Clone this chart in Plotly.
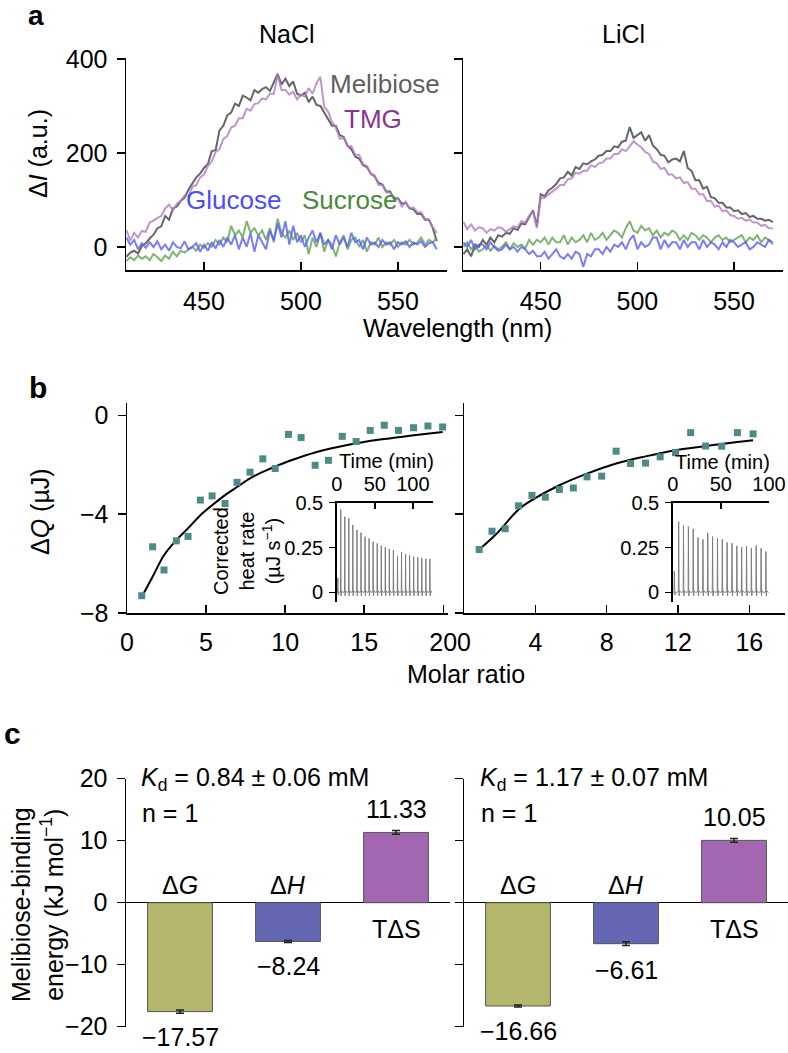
import plotly.graph_objects as go

W, H = 788, 1053
FONT = "Liberation Sans, Arial, Helvetica, sans-serif"

# ---------------- Panel a : fluorescence difference spectra ----------------
wavelength = list(range(410, 571, 2))

nacl_melibiose = [-21, -12, -8, -14, 2, 8, 18, 26, 40, 44,
                  66, 58, 82, 86, 98, 105, 122, 134, 148, 156,
                  168, 176, 204, 206, 248, 258, 280, 286, 305, 300,
                  322, 318, 312, 334, 328, 336, 340, 332, 352, 368,
                  346, 358, 342, 352, 326, 322, 328, 308, 320, 302,
                  300, 286, 274, 258, 258, 238, 234, 216, 208, 192,
                  188, 174, 170, 156, 150, 136, 133, 118, 118, 102,
                  104, 92, 94, 82, 80, 70, 70, 58, 58, 40,
                  12]
nacl_tmg = [36, 14, 30, 20, 34, 32, 52, 56, 62, 66,
            82, 90, 78, 92, 98, 110, 108, 128, 132, 148,
            154, 172, 182, 202, 208, 230, 236, 254, 258, 274,
            274, 294, 290, 304, 306, 316, 314, 326, 326, 366,
            334, 334, 324, 330, 314, 324, 320, 338, 326, 348,
            362, 298, 288, 266, 254, 230, 232, 214, 214, 196,
            196, 176, 172, 156, 152, 132, 132, 116, 116, 102,
            104, 86, 96, 82, 84, 74, 74, 60, 58, 42,
            30]
nacl_glucose = [20, 5, 15, -5, 8, -2, 10, 0, 12, -5,
                5, -8, 10, 0, -3, 12, -5, 0, 8, -10,
                5, -8, 10, -3, 15, 0, 20, 5, 25, -5,
                20, 0, 30, -10, 25, 10, -5, 35, 15, 50,
                20, 55, 5, 45, 10, 25, 0, 20, 35, 10,
                30, 5, 15, -5, 25, 5, 20, 0, 30, 10,
                15, -5, 20, 5, 10, 0, 15, 5, 10, -5,
                10, 5, 12, 0, 10, 5, 12, 0, 8, 10,
                -5]
nacl_sucrose = [-30, -22, -28, -18, -25, -20, -28, -15, -22, -30,
                -18, -25, -10, -20, -8, -12, -5, 0, -8, 5,
                -2, 8, 0, 15, 5, 20, 10, 45, 25, 35,
                20, 55, 30, 40, 25, 35, 15, 40, 10, 60,
                30, 20, 35, 15, 30, 10, 25, -15, 20, 0,
                30, -10, 15, 5, -20, 10, 25, -5, 15, 20,
                0, 15, -10, 10, 5, 20, 0, 10, 5, 15,
                0, 10, 5, 15, 5, 10, 20, 5, 15, 10,
                20]

licl_melibiose = [-15, -5, -20, 5, 0, 15, 5, 20, 10, 25,
                  22, 30, 28, 40, 36, 50, 48, 62, 78, 45,
                  112, 108, 120, 126, 134, 146, 148, 160, 152, 170,
                  166, 178, 176, 182, 186, 194, 196, 204, 204, 214,
                  212, 224, 226, 255, 232, 238, 244, 226, 238, 216,
                  208, 196, 194, 180, 186, 188, 182, 204, 168, 162,
                  142, 142, 124, 128, 106, 104, 94, 94, 84, 84,
                  76, 78, 70, 72, 64, 66, 60, 60, 56, 58,
                  53]
licl_tmg = [53, 38, 48, 35, 42, 40, 30, 38, 35, 42,
            40, 32, 38, 44, 42, 55, 52, 66, 76, 40,
            104, 104, 112, 118, 124, 132, 132, 144, 146, 158,
            156, 162, 162, 174, 170, 178, 180, 188, 188, 198,
            198, 208, 204, 214, 225, 218, 212, 202, 198, 182,
            178, 166, 168, 154, 154, 146, 148, 136, 138, 124,
            124, 112, 112, 98, 98, 86, 88, 76, 78, 68,
            66, 60, 62, 56, 58, 52, 52, 45, 47, 40,
            40]
licl_glucose = [10, 0, 15, -5, 5, 5, -5, 10, 0, -8,
                -5, 5, -5, 0, -10, 0, -5, -15, -8, -20,
                -20, -10, -25, -15, -5, -20, -25, -15, -25, -10,
                -15, -42, -15, -20, -5, -5, -15, 0, -10, 5,
                0, 10, -5, 15, 25, -5, 10, 0, 5, 20,
                20, -5, 15, 0, 10, 10, -5, 15, 0, 10,
                10, -5, 15, 0, 10, 5, -5, 10, 0, 15,
                10, 0, 5, 10, -5, 0, 10, 5, 0, 15,
                10]
licl_sucrose = [0, 10, -5, 5, -10, -5, 5, -8, 2, -5,
                0, 10, -5, 8, 0, 5, -3, 15, 5, 15,
                10, 20, 5, 20, 10, 10, 25, 5, 20, 10,
                15, 25, 10, 30, 15, 20, 30, 15, 25, 35,
                30, 20, 40, 55, 35, 30, 45, 35, 40, 25,
                35, 20, 30, 25, 35, 30, 15, 25, 15, 30,
                25, 15, 25, 20, 10, 20, 25, 15, 20, 10,
                15, 20, 25, 10, 20, 15, 25, 10, 20, 15,
                5]

sugar_names = ["Melibiose", "TMG", "Glucose", "Sucrose"]
line_colors = ["#555555", "#b27ac4", "#5a5aff", "#5fa34e"]
line_opac = [0.9, 0.8, 0.8, 0.8]
label_colors = ["#606060", "#8a3590", "#4b4bff", "#4a8a3a"]

# ---------------- Panel b : ITC ----------------
nacl_ratio = [0.93, 1.62, 2.34, 3.12, 3.86, 4.64, 5.38, 6.20, 6.96, 7.78, 8.59, 9.37,
              10.21, 11.01, 11.90, 12.74, 13.61, 14.49, 15.38, 16.27, 17.17, 18.12, 19.03, 19.96]
nacl_dq = [-7.30, -5.32, -6.26, -5.08, -4.90, -3.43, -3.26, -3.57, -2.71, -2.30, -1.76, -2.15,
           -0.77, -0.90, -2.02, -1.82, -0.85, -1.06, -0.61, -0.40, -0.61, -0.50, -0.43, -0.47]
nacl_fit_x = [0.93, 1.62, 2.34, 3.12, 3.86, 4.64, 5.38, 6.20, 6.96, 7.78, 8.59, 10.21, 12.0, 14.0, 16.0, 18.0, 19.96]
nacl_fit_y = [-7.35, -6.53, -5.66, -5.05, -4.57, -4.04, -3.64, -3.23, -2.90, -2.55, -2.29, -1.86, -1.48, -1.19, -0.98, -0.82, -0.67]

licl_ratio = [0.85, 1.57, 2.31, 3.06, 3.81, 4.56, 5.35, 6.13, 6.90, 7.72, 8.53, 9.34,
              10.18, 11.00, 11.86, 12.71, 13.55, 14.45, 15.33, 16.21]
licl_dq = [-5.43, -4.69, -4.59, -3.66, -3.24, -3.31, -3.00, -2.94, -2.49, -2.46, -1.45, -1.95,
           -1.93, -1.68, -1.51, -0.70, -1.24, -1.25, -0.70, -0.75]
licl_fit_x = [0.85, 1.84, 3.06, 3.81, 5.35, 6.90, 8.53, 10.18, 11.86, 13.55, 15.33, 16.21]
licl_fit_y = [-5.43, -4.78, -3.81, -3.43, -2.83, -2.36, -1.95, -1.66, -1.41, -1.24, -1.08, -1.01]

# inset raw thermograms: injection times (min) and peak heights (µJ/s)
nacl_inj_time = [5.3, 10.6, 15.9, 21.2, 26.6, 31.9, 37.2, 42.5, 47.8, 53.2, 58.5, 63.8,
                 69.1, 74.4, 79.8, 85.1, 90.4, 95.7, 101.0, 106.4, 111.7, 117.0, 122.3]
nacl_inj_peak = [0.463, 0.422, 0.413, 0.376, 0.348, 0.333, 0.310, 0.301, 0.283, 0.273, 0.260, 0.251,
                 0.242, 0.236, 0.203, 0.225, 0.214, 0.206, 0.199, 0.195, 0.191, 0.188, 0.186]
licl_inj_time = [6.2, 11.2, 16.3, 21.3, 26.3, 31.4, 36.4, 41.4, 46.5, 51.5, 56.5, 61.6,
                 66.6, 71.6, 76.7, 81.7, 86.7, 91.8, 96.8]
licl_inj_peak = [0.394, 0.372, 0.367, 0.354, 0.306, 0.296, 0.330, 0.311, 0.302, 0.296, 0.278, 0.274,
                 0.259, 0.252, 0.256, 0.246, 0.261, 0.246, 0.228]
first_inj = {"nacl": (1.5, 0.08), "licl": (1.7, 0.117)}

# ---------------- Panel c : thermodynamics ----------------
terms = ["ΔG", "ΔH", "TΔS"]
term_labels = ["Δ<i>G</i>", "Δ<i>H</i>", "TΔS"]
nacl_energy = [-17.57, -6.25, 11.33]
nacl_err = [0.25, 0.15, 0.3]
nacl_energy_text = ["−17.57", "−8.24", "11.33"]
licl_energy = [-16.66, -6.61, 10.05]
licl_err = [0.15, 0.3, 0.3]
licl_energy_text = ["−16.66", "−6.61", "10.05"]
bar_colors = ["#b4b66c", "#6667b4", "#a366b0"]
kd_text = ["<i>K</i><sub>d</sub> = 0.84 ± 0.06 mM", "<i>K</i><sub>d</sub> = 1.17 ± 0.07 mM"]


def xdom(a, b):
    return [a / W, b / W]


def ydom(top, bottom):
    return [1 - bottom / H, 1 - top / H]


def axis(domain, rng, **kw):
    d = dict(domain=domain, range=rng, showgrid=False, zeroline=False, showline=True, automargin=False,
             linecolor="black", linewidth=1.5, ticks="outside", ticklen=8, tickwidth=1.5,
             tickcolor="black", tickfont=dict(size=25, color="black", family=FONT))
    d.update(kw)
    return d


fig = go.Figure()

# panel a traces
spectra = [
    ("x", "y", [nacl_melibiose, nacl_tmg, nacl_sucrose, nacl_glucose]),
    ("x2", "y2", [licl_melibiose, licl_tmg, licl_sucrose, licl_glucose]),
]
order = [0, 1, 3, 2]
for xa, ya, series in spectra:
    for k, s in enumerate(series):
        ci = order[k]
        fig.add_trace(go.Scatter(x=wavelength, y=s, mode="lines", xaxis=xa, yaxis=ya,
                                 line=dict(color=line_colors[ci], width=2), opacity=line_opac[ci],
                                 name=sugar_names[ci], showlegend=False))

# panel b traces
for xa, ya, rx, ry, fx, fy in [("x3", "y3", nacl_ratio, nacl_dq, nacl_fit_x, nacl_fit_y),
                               ("x4", "y4", licl_ratio, licl_dq, licl_fit_x, licl_fit_y)]:
    fig.add_trace(go.Scatter(x=fx, y=fy, mode="lines", xaxis=xa, yaxis=ya, line_shape="spline",
                             line=dict(color="black", width=2), showlegend=False))
    fig.add_trace(go.Scatter(x=rx, y=ry, mode="markers", xaxis=xa, yaxis=ya,
                             marker=dict(symbol="square", size=7, color="#4d8b87"), showlegend=False))


def thermogram(first, times, peaks, t_end):
    xs = [0.0, first[0] - 0.3, first[0], first[0] + 0.5, first[0] + 1.5]
    ys = [0.0, 0.0, first[1], -0.015, 0.0]
    for t, h in zip(times, peaks):
        xs += [t - 0.3, t, t + 0.4, t + 1.0, t + 2.5]
        ys += [0.002, h, -0.02, 0.008, 0.0]
    xs.append(t_end)
    ys.append(0.0)
    return xs, ys


for xa, ya, key, tt, pk, te in [("x5", "y5", "nacl", nacl_inj_time, nacl_inj_peak, 124),
                                ("x6", "y6", "licl", licl_inj_time, licl_inj_peak, 99)]:
    tx, ty = thermogram(first_inj[key], tt, pk, te)
    fig.add_trace(go.Scatter(x=tx, y=ty, mode="lines", xaxis=xa, yaxis=ya,
                             line=dict(color="#7d7d7d", width=1), showlegend=False))

# panel c traces
for xa, ya, vals, errs in [("x7", "y7", nacl_energy, nacl_err), ("x8", "y8", licl_energy, licl_err)]:
    fig.add_trace(go.Bar(x=terms, y=vals, xaxis=xa, yaxis=ya, width=0.6,
                         marker=dict(color=bar_colors, line=dict(color="#555555", width=1)),
                         error_y=dict(type="data", array=errs, color="#222222", thickness=1.5, width=4),
                         showlegend=False))

tf = dict(size=25, color="black", family=FONT)
small = dict(size=20, color="black", family=FONT)
layout_axes = dict(
    # panel a
    xaxis=axis(xdom(126, 447), [409.8, 575.3], anchor="y", ticks="inside", tickvals=[450, 500, 550],
               ticklabelstandoff=8),
    yaxis=axis(ydom(58, 270), [-49, 402], anchor="x", tickvals=[0, 200, 400], ticklabelstandoff=4),
    xaxis2=axis(xdom(463, 783), [409.8, 575.3], anchor="y2", ticks="inside", tickvals=[450, 500, 550],
                ticklabelstandoff=8),
    yaxis2=axis(ydom(58, 270), [-49, 402], anchor="x2", tickvals=[0, 200, 400], showticklabels=False),
    # panel b
    xaxis3=axis(xdom(127, 448), [0, 20.3], anchor="y3", ticks="inside", tickvals=[0, 5, 10, 15, 20],
                ticklabelstandoff=6),
    yaxis3=axis(ydom(403, 613), [-8, 0.5], anchor="x3", tickvals=[-8, -4, 0], ticktext=["−8", "−4", "0"],
                ticklabelstandoff=4),
    xaxis4=axis(xdom(464, 785), [0, 18], anchor="y4", ticks="inside", tickvals=[0, 4, 8, 12, 16],
                ticklabelstandoff=6),
    yaxis4=axis(ydom(403, 613), [-8, 0.5], anchor="x4", tickvals=[-8, -4, 0], showticklabels=False),
    # insets
    xaxis5=axis(xdom(336.7, 432.7), [0, 126], anchor="y5", side="top", ticks="inside", ticklen=6,
                tickvals=[0, 50, 100], tickfont=small, ticklabelstandoff=2),
    yaxis5=axis(ydom(502.7, 601.7), [-0.0525, 0.5], anchor="x5", ticklen=6, tickvals=[0, 0.25, 0.5],
                ticktext=["0", "0.25", "0.5"], tickfont=small, ticklabelstandoff=2),
    xaxis6=axis(xdom(672.7, 769), [0, 100], anchor="y6", side="top", ticks="inside", ticklen=6,
                tickvals=[0, 50, 100], tickfont=small, ticklabelstandoff=2),
    yaxis6=axis(ydom(502.7, 601.7), [-0.0525, 0.5], anchor="x6", ticklen=6, tickvals=[0, 0.25, 0.5],
                ticktext=["0", "0.25", "0.5"], tickfont=small, ticklabelstandoff=2),
    # panel c
    xaxis7=dict(domain=xdom(126, 450), range=[-0.5, 2.5], anchor="y7", visible=False, type="category",
                automargin=False),
    yaxis7=axis(ydom(778.7, 1026.7), [-20, 20], anchor="x7", tickvals=[-20, -10, 0, 10, 20],
                ticktext=["−20", "−10", "0", "10", "20"], zeroline=True, zerolinecolor="black",
                zerolinewidth=1.5, ticklabelstandoff=4),
    xaxis8=dict(domain=xdom(464, 788), range=[-0.5, 2.5], anchor="y8", visible=False, type="category",
                automargin=False),
    yaxis8=axis(ydom(778.7, 1026.7), [-20, 20], anchor="x8", tickvals=[-20, -10, 0, 10, 20],
                showticklabels=False, zeroline=True, zerolinecolor="black", zerolinewidth=1.5),
)


def P(xp, yp, text, size=25, color="black", xanchor="center", yanchor="middle", angle=0, **kw):
    return dict(x=xp / W, y=1 - yp / H, xref="paper", yref="paper", text=text,
                showarrow=False, xanchor=xanchor, yanchor=yanchor, textangle=angle,
                font=dict(size=size, color=color, family=FONT), **kw)


ann = [
    P(36, 0, "<b>a</b>", size=28, yanchor="top", yshift=2), P(38, 387, "<b>b</b>", size=30),
    P(12, 733, "<b>c</b>", size=30),
    P(287, 34, "NaCl"), P(623, 34, "LiCl"),
    P(38, 154, "Δ<i>I</i> (a.u.)", angle=-90),
    P(457, 328, "Wavelength (nm)"),
    P(328, 84, sugar_names[0], size=26, color=label_colors[0], xanchor="left"),
    P(342, 119, sugar_names[1], size=26, color=label_colors[1], xanchor="left"),
    P(184, 200, sugar_names[2], size=26, color=label_colors[2], xanchor="left"),
    P(300, 200, sugar_names[3], size=26, color=label_colors[3], xanchor="left"),
    P(40, 512, "Δ<i>Q</i> (µJ)", angle=-90),
    P(466, 674, "Molar ratio"),
    P(386, 461, "Time (min)", size=20), P(722, 462, "Time (min)", size=20),
    P(247, 551, "Corrected<br>heat rate<br>(µJ s<sup>−1</sup>)", size=20, angle=-90),
    P(37, 905, "Melibiose-binding<br>energy (kJ mol<sup>−1</sup>)", angle=-90),
    P(139, 779, kd_text[0], xanchor="left"), P(140, 813, "n = 1", xanchor="left"),
    P(478, 779, kd_text[1], xanchor="left"), P(479, 813, "n = 1", xanchor="left"),
]

for xa, ya, vals, errs, txt in [("x7", "y7", nacl_energy, nacl_err, nacl_energy_text),
                                ("x8", "y8", licl_energy, licl_err, licl_energy_text)]:
    for i, (v, e, t) in enumerate(zip(vals, errs, txt)):
        if v < 0:
            ann.append(dict(x=terms[i], y=0, xref=xa, yref=ya, text=term_labels[i], showarrow=False,
                            xanchor="center", yanchor="bottom", yshift=2, font=tf))
            ann.append(dict(x=terms[i], y=v - e, xref=xa, yref=ya, text=t, showarrow=False,
                            xanchor="center", yanchor="top", yshift=-8, font=tf))
        else:
            ann.append(dict(x=terms[i], y=0, xref=xa, yref=ya, text=term_labels[i], showarrow=False,
                            xanchor="center", yanchor="top", yshift=-10, font=tf))
            ann.append(dict(x=terms[i], y=v + e, xref=xa, yref=ya, text=t, showarrow=False,
                            xanchor="center", yanchor="bottom", yshift=6, font=tf))

fig.update_layout(template="none", width=W, height=H,
                  margin=dict(l=0, r=0, t=0, b=0, pad=0, autoexpand=False),
                  paper_bgcolor="white", plot_bgcolor="rgba(0,0,0,0)", showlegend=False,
                  font=dict(family=FONT, size=25, color="black"), hovermode=False,
                  annotations=ann, bargap=0.4, **layout_axes)

# remove the default page margin so the figure sits at the window's top-left corner
fig.write_html("out.html", config={"displayModeBar": False, "staticPlot": True},
               post_script="document.body.style.margin='0px';")
